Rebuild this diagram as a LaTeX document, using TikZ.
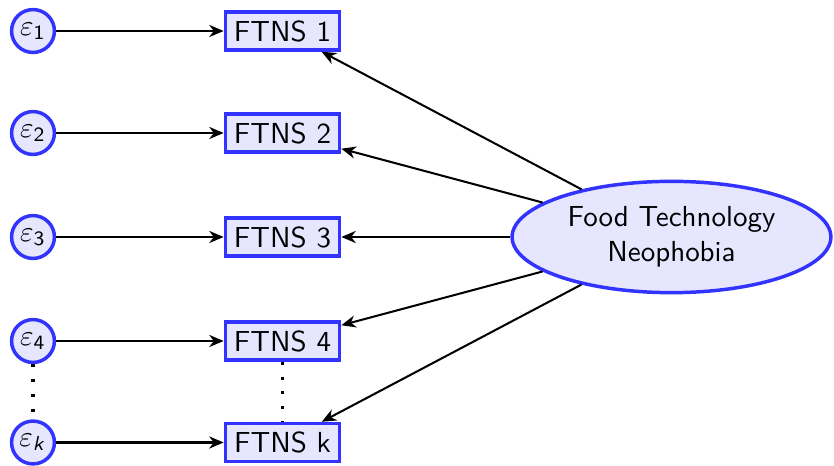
\documentclass[tikz,border=0pt]{standalone}
\usetikzlibrary{shapes.geometric,arrows.meta}
\DeclareMathAlphabet{\mathsfit}{OT1}{cmss}{m}{sl}
\definecolor{edgeblue}{RGB}{51,51,255}
\definecolor{fillblue}{RGB}{230,230,255}
\begin{document}
\begin{tikzpicture}[x=0.345pt,y=-0.345pt,
  font=\sffamily,
  errnode/.style={circle,draw=edgeblue,fill=fillblue,line width=1.2pt,
    minimum size=14.8pt,inner sep=0pt},
  itembox/.style={rectangle,draw=edgeblue,fill=fillblue,line width=1.2pt,
    minimum width=39.4pt,minimum height=13.1pt,inner sep=0pt},
  factor/.style={ellipse,draw=edgeblue,fill=fillblue,line width=1.2pt,
    minimum width=110pt,minimum height=38.4pt,inner sep=0pt,align=center},
  link/.style={line width=0.7pt,-{Stealth[length=5pt,width=4.2pt,inset=1.6pt]}},
  gap/.style={line width=1.1pt,loosely dotted}]
\useasboundingbox (0,0) rectangle (834,466);

% error terms
\node[errnode] (e1) at (33,31)    {$\varepsilon_{\mathsf{1}}$};
\node[errnode] (e2) at (33,133)   {$\varepsilon_{\mathsf{2}}$};
\node[errnode] (e3) at (33,237)   {$\varepsilon_{\mathsf{3}}$};
\node[errnode] (e4) at (33,341)   {$\varepsilon_{\mathsf{4}}$};
\node[errnode] (ek) at (33,442.5) {$\varepsilon_{\mathsfit{k}}$};

% indicator items
\node[itembox] (f1) at (282.5,31)    {FTNS 1};
\node[itembox] (f2) at (282.5,133)   {FTNS 2};
\node[itembox] (f3) at (282.5,237)   {FTNS 3};
\node[itembox] (f4) at (282.5,341)   {FTNS 4};
\node[itembox] (fk) at (282.5,442.5) {FTNS k};

% latent factor
\node[factor] (lat) at (671.5,237) {Food Technology\\Neophobia};

% error paths
\foreach \i in {1,2,3,4,k}
  \draw[link] (e\i) -- (f\i);

% loadings
\foreach \i in {1,2,3,4,k}
  \draw[link] (lat) -- (f\i);

% omitted items
\draw[gap] (e4.south) -- (ek.north);
\draw[gap] (f4.south) -- (fk.north);
\end{tikzpicture}
\end{document}
